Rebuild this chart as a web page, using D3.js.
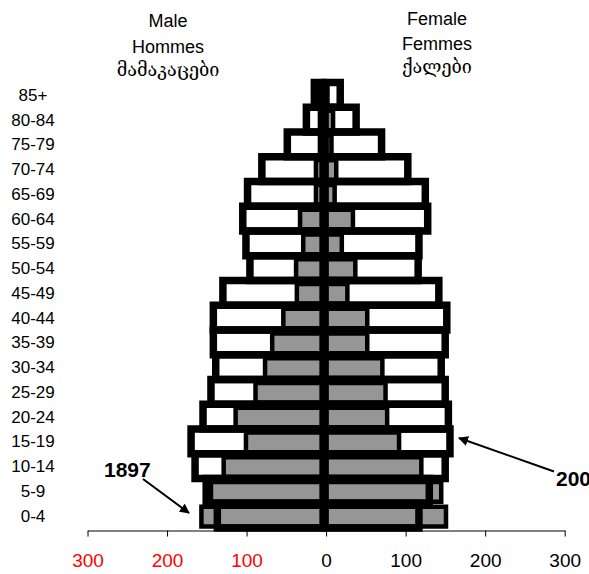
<!DOCTYPE html>
<html>
<head>
<meta charset="utf-8">
<script src="https://cdn.jsdelivr.net/npm/d3@7"></script>
<style>
  body { margin: 0; background: #fff; }
  text { font-family: "Liberation Sans", Arial, sans-serif; }
</style>
</head>
<body>
<div id="chart"></div>
<script>
// age groups, bottom to top
const ages = ["0-4", "5-9", "10-14", "15-19", "20-24", "25-29", "30-34", "35-39", "40-44",
              "45-49", "50-54", "55-59", "60-64", "65-69", "70-74", "75-79", "80-84", "85+"];

// thousands
const male2002   = [133, 147, 161, 166, 151, 141, 135, 138, 138, 126, 92, 97, 101, 95, 77, 45, 21, 11];
const female2002 = [118, 131, 151, 157, 155, 151, 146, 151, 153, 143, 117, 118, 129, 126, 104, 71, 39, 19];
const male1897   = [153, 141, 125, 97, 110, 85, 73, 64, 50, 33, 34, 25, 29, 9, 9, 4, 4, 5];
const female1897 = [152, 146, 121, 93, 78, 76, 72, 53, 53, 28, 38, 21, 35, 12, 14, 8, 10, 3];

const ticks = [-300, -200, -100, 0, 100, 200, 300];
const maleTitle = ["Male", "Hommes", "მამაკაცები"];
const femaleTitle = ["Female", "Femmes", "ქალები"];

const W = 589, H = 574;
const svg = d3.select("#chart").append("svg")
    .attr("width", W).attr("height", H);

const x = d3.scaleLinear().domain([-300, 300]).range([87.5, 564.7]);
const y = d3.scaleBand().domain(ages).range([528, 82.5]).padding(0);

// bars on each side start a little off the zero tick, like the excel original
const maleShift = -3, femaleShift = -1;

const rows = ages.map((a, i) => ({
    age: a, m02: male2002[i], f02: female2002[i], m97: male1897[i], f97: female1897[i]
}));

// 1897 - grey bars
const old = svg.append("g");
old.selectAll(".m97").data(rows).enter().append("rect")
    .attr("x", d => x(-d.m97) + maleShift)
    .attr("width", d => x(0) - x(-d.m97))
    .attr("y", d => y(d.age) + 3.5)
    .attr("height", y.bandwidth() - 5)
    .attr("fill", "#969696").attr("stroke", "#000").attr("stroke-width", 4.5);
old.selectAll(".f97").data(rows).enter().append("rect")
    .attr("x", x(0) + femaleShift)
    .attr("width", d => x(d.f97) - x(0))
    .attr("y", d => y(d.age) + 3.5)
    .attr("height", y.bandwidth() - 5)
    .attr("fill", "#969696").attr("stroke", "#000").attr("stroke-width", 4.5);

// 2002 - thick outlines, no fill, on top
const recent = svg.append("g");
recent.selectAll(".m02").data(rows).enter().append("rect")
    .attr("x", d => x(-d.m02) + maleShift)
    .attr("width", d => x(0) - x(-d.m02))
    .attr("y", d => y(d.age))
    .attr("height", y.bandwidth())
    .attr("fill", "none").attr("stroke", "#000").attr("stroke-width", 7.5);
recent.selectAll(".f02").data(rows).enter().append("rect")
    .attr("x", x(0) + femaleShift)
    .attr("width", d => x(d.f02) - x(0))
    .attr("y", d => y(d.age))
    .attr("height", y.bandwidth())
    .attr("fill", "none").attr("stroke", "#000").attr("stroke-width", 7.5);

// x axis
const axis = svg.append("g").attr("transform", "translate(0,530.5)")
    .call(d3.axisBottom(x).tickValues(ticks).tickSize(6).tickSizeOuter(0)
        .tickFormat(d => Math.abs(d)));
axis.select(".domain").attr("stroke", "#000");
axis.selectAll(".tick line").attr("stroke", "#000");
axis.selectAll(".tick text")
    .attr("font-size", 19).attr("font-family", "Liberation Sans, Arial, sans-serif")
    .attr("y", 23).attr("dy", "0.71em")
    .attr("fill", d => d < 0 ? "#ff0000" : "#000");

// age labels
svg.append("g").selectAll("text").data(ages).enter().append("text")
    .attr("x", 33)
    .attr("y", d => y(d) + y.bandwidth() / 2 + 6)
    .attr("text-anchor", "middle")
    .attr("font-size", 17)
    .text(d => d);

// titles
const geoFont = "'DejaVu Serif', 'DejaVu Sans', serif";
svg.append("g").selectAll("text").data(maleTitle).enter().append("text")
    .attr("x", 168)
    .attr("y", (d, i) => [27, 53, 76][i])
    .attr("text-anchor", "middle")
    .attr("font-size", 18)
    .style("font-family", (d, i) => i === 2 ? geoFont : null)
    .text(d => d);
svg.append("g").selectAll("text").data(femaleTitle).enter().append("text")
    .attr("x", 437)
    .attr("y", (d, i) => [25, 50, 73][i])
    .attr("text-anchor", "middle")
    .attr("font-size", 18)
    .style("font-family", (d, i) => i === 2 ? geoFont : null)
    .text(d => d);

// arrows with year labels
svg.append("defs").append("marker")
    .attr("id", "head").attr("viewBox", "0 0 10 10")
    .attr("refX", 9).attr("refY", 5)
    .attr("markerWidth", 5).attr("markerHeight", 5)
    .attr("orient", "auto")
    .append("path").attr("d", "M0,0L10,5L0,10Z").attr("fill", "#000");

svg.append("line")
    .attr("x1", 143).attr("y1", 479).attr("x2", 189).attr("y2", 513)
    .attr("stroke", "#000").attr("stroke-width", 2).attr("marker-end", "url(#head)");
svg.append("text").attr("x", 104).attr("y", 476.5)
    .attr("font-size", 21).attr("font-weight", "bold").text("1897");

svg.append("line")
    .attr("x1", 554).attr("y1", 471.5).attr("x2", 459).attr("y2", 438)
    .attr("stroke", "#000").attr("stroke-width", 2).attr("marker-end", "url(#head)");
svg.append("text").attr("x", 556).attr("y", 486)
    .attr("font-size", 21).attr("font-weight", "bold").text("2002");
</script>
</body>
</html>
